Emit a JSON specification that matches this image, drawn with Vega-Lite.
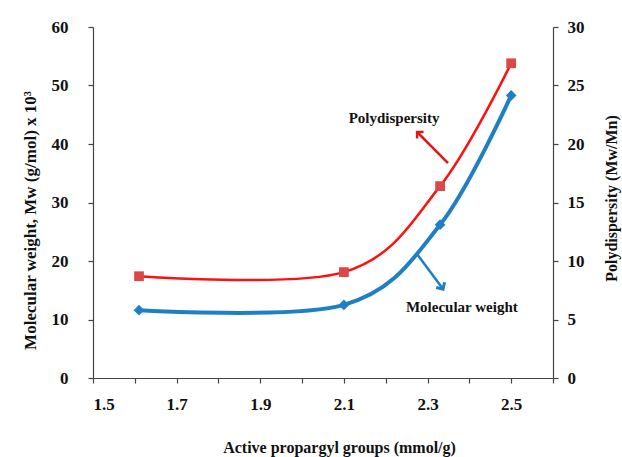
{
  "$schema": "https://vega.github.io/schema/vega-lite/v6.json",
  "width": 460,
  "height": 351,
  "autosize": {"type": "none"},
  "padding": {"left": 93, "top": 27, "right": 69, "bottom": 79},
  "background": "#ffffff",
  "config": {
    "view": {"stroke": null},
    "axis": {
      "grid": false,
      "labelFont": "Liberation Serif",
      "labelFontWeight": "bold",
      "labelFontSize": 17,
      "labelColor": "#111111",
      "titleFont": "Liberation Serif",
      "titleFontWeight": "bold",
      "titleFontSize": 16,
      "titleColor": "#111111",
      "domainColor": "#444444",
      "tickColor": "#444444",
      "tickSize": 5,
      "domainWidth": 1.2,
      "tickWidth": 1.2
    }
  },
  "datasets": {
    "series": [
      {"groups": 1.61, "mw": 11.6, "pd": 8.7},
      {"groups": 2.1, "mw": 12.5, "pd": 9.05},
      {"groups": 2.33, "mw": 26.2, "pd": 16.4},
      {"groups": 2.5, "mw": 48.3, "pd": 26.9}
    ],
    "labels": [
      {"name": "Polydispersity", "lx": 2.22, "ly": 44.4},
      {"name": "Molecular weight", "lx": 2.382, "ly": 12.1}
    ],
    "arrows": [
      {"name": "Polydispersity", "tx": 2.349, "ty": 36.75, "hx": 2.275, "hy": 42.05},
      {"name": "Molecular weight", "tx": 2.277, "ty": 21.0, "hx": 2.337, "hy": 15.2}
    ]
  },
  "layer": [
    {
      "layer": [
        {
          "data": {"name": "series"},
          "mark": {"type": "line", "interpolate": "cardinal", "color": "#1f7fc4", "strokeWidth": 4},
          "encoding": {
            "x": {
              "field": "groups", "type": "quantitative",
              "scale": {"domain": [1.5, 2.6], "nice": false, "zero": false},
              "axis": {
                "title": "Active propargyl groups (mmol/g)",
                "values": [1.5, 1.6, 1.7, 1.8, 1.9, 2.0, 2.1, 2.2, 2.3, 2.4, 2.5, 2.6],
                "labelExpr": "round(datum.value*10)%2==1 ? format(datum.value,'.1f') : ''",
                "labelPadding": 13,
                "titlePadding": 27,
                "titleX": 246
              }
            },
            "y": {
              "field": "mw", "type": "quantitative",
              "scale": {"domain": [0, 60], "nice": false},
              "axis": {
                "title": "Molecular weight, Mw (g/mol) x 10³",
                "titleFontSize": 17,
                "values": [0, 5, 10, 15, 20, 25, 30, 35, 40, 45, 50, 55, 60],
                "labelExpr": "datum.value % 10 == 0 ? datum.value : ''",
                "labelPadding": 20,
                "titlePadding": 12,
                "titleY": 193
              }
            }
          }
        },
        {
          "data": {"name": "series"},
          "mark": {"type": "point", "shape": "diamond", "filled": true, "color": "#1f7fc4", "size": 115, "opacity": 1},
          "encoding": {
            "x": {"field": "groups", "type": "quantitative"},
            "y": {"field": "mw", "type": "quantitative"}
          }
        },
        {
          "data": {"name": "labels"},
          "mark": {"type": "text", "font": "Liberation Serif", "fontWeight": "bold", "fontSize": 15, "color": "#111111"},
          "encoding": {
            "x": {"field": "lx", "type": "quantitative"},
            "y": {"field": "ly", "type": "quantitative"},
            "text": {"field": "name"}
          }
        },
        {
          "data": {"name": "arrows"},
          "mark": {"type": "rule", "strokeWidth": 2.5},
          "encoding": {
            "x": {"field": "tx", "type": "quantitative"},
            "y": {"field": "ty", "type": "quantitative"},
            "x2": {"field": "hx"},
            "y2": {"field": "hy"},
            "color": {"field": "name", "type": "nominal", "scale": {"domain": ["Polydispersity", "Molecular weight"], "range": ["#e01818", "#1f7fc4"]}, "legend": null}
          }
        },
        {
          "data": {"name": "arrows"},
          "transform": [{"filter": "datum.name == 'Polydispersity'"}],
          "mark": {"type": "point", "shape": "M -0.7 0.7 L 0 0 L 0.7 0.7", "filled": false, "strokeWidth": 2.5, "size": 170, "angle": 315, "color": "#e01818", "opacity": 1},
          "encoding": {
            "x": {"field": "hx", "type": "quantitative"},
            "y": {"field": "hy", "type": "quantitative"}
          }
        },
        {
          "data": {"name": "arrows"},
          "transform": [{"filter": "datum.name == 'Molecular weight'"}],
          "mark": {"type": "point", "shape": "M -0.7 0.7 L 0 0 L 0.7 0.7", "filled": false, "strokeWidth": 3, "size": 200, "angle": 148, "color": "#1f7fc4", "opacity": 1},
          "encoding": {
            "x": {"field": "hx", "type": "quantitative"},
            "y": {"field": "hy", "type": "quantitative"}
          }
        }
      ]
    },
    {
      "data": {"name": "series"},
      "layer": [
        {
          "mark": {"type": "line", "interpolate": "cardinal", "color": "#ff1010", "strokeWidth": 2.5},
          "encoding": {
            "x": {"field": "groups", "type": "quantitative"},
            "y": {
              "field": "pd", "type": "quantitative",
              "scale": {"domain": [0, 30], "nice": false},
              "axis": {
                "orient": "right",
                "title": "Polydispersity (Mw/Mn)",
                "values": [0, 5, 10, 15, 20, 25, 30],
                "labelPadding": 9,
                "titleAngle": 270,
                "titleBaseline": "middle",
                "titleX": 58,
                "titleY": 171
              }
            }
          }
        },
        {
          "mark": {"type": "point", "shape": "square", "filled": true, "color": "#dc4848", "size": 95, "opacity": 1},
          "encoding": {
            "x": {"field": "groups", "type": "quantitative"},
            "y": {"field": "pd", "type": "quantitative"}
          }
        }
      ]
    }
  ],
  "resolve": {"scale": {"y": "independent", "color": "independent"}}
}
